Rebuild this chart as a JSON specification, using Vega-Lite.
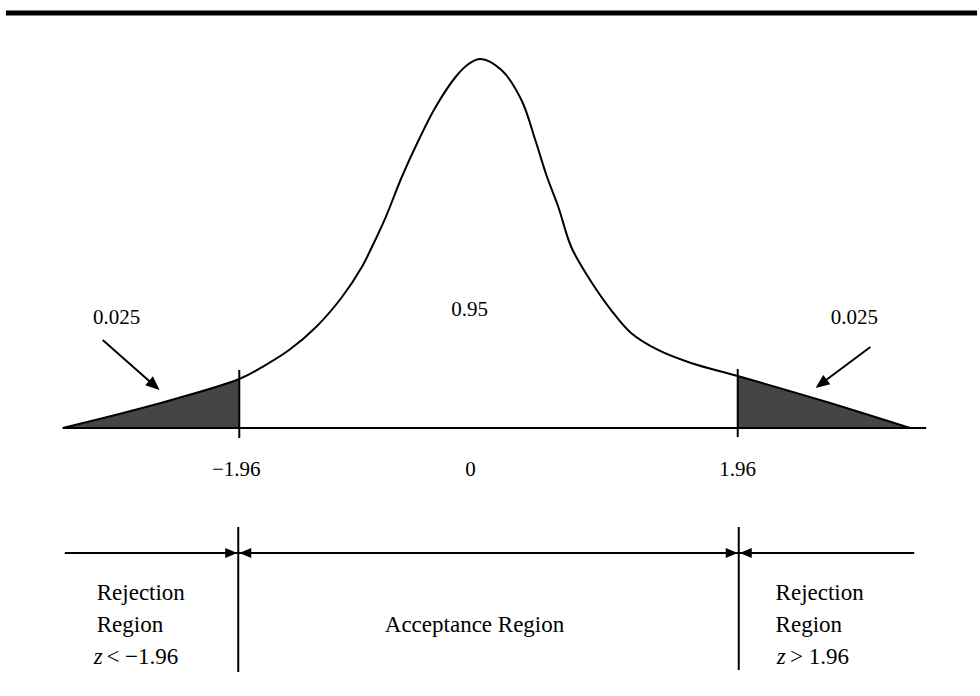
{
  "$schema": "https://vega.github.io/schema/vega-lite/v6.json",
  "width": 980,
  "height": 696,
  "padding": 0,
  "autosize": {"type": "fit", "contains": "padding"},
  "background": "white",
  "config": {"view": {"stroke": null}},
  "datasets": {
    "curve": [
      {"z": -3.348, "y": 0}, {"z": -2.666, "y": 0.0238}, {"z": -1.96, "y": 0.0531},
      {"z": -1.78, "y": 0.0661}, {"z": -1.568, "y": 0.0845}, {"z": -1.356, "y": 0.1095},
      {"z": -1.152, "y": 0.142}, {"z": -0.996, "y": 0.1745}, {"z": -0.917, "y": 0.1962},
      {"z": -0.808, "y": 0.2287}, {"z": -0.682, "y": 0.2721}, {"z": -0.549, "y": 0.3122},
      {"z": -0.416, "y": 0.348}, {"z": -0.259, "y": 0.3805}, {"z": -0.157, "y": 0.3946},
      {"z": -0.063, "y": 0.4}, {"z": 0.102, "y": 0.3881}, {"z": 0.259, "y": 0.3556},
      {"z": 0.368, "y": 0.3122}, {"z": 0.455, "y": 0.2743}, {"z": 0.549, "y": 0.2396},
      {"z": 0.651, "y": 0.1962}, {"z": 0.784, "y": 0.1637}, {"z": 0.964, "y": 0.1279},
      {"z": 1.121, "y": 0.103}, {"z": 1.333, "y": 0.0846}, {"z": 1.592, "y": 0.0705},
      {"z": 1.96, "y": 0.0564}, {"z": 2.634, "y": 0.0293}, {"z": 3.316, "y": 0}
    ],
    "tails": [
      {"side": "left", "z": -3.348, "y": 0}, {"side": "left", "z": -2.666, "y": 0.0238}, {"side": "left", "z": -1.96, "y": 0.0531},
      {"side": "right", "z": 1.96, "y": 0.0564}, {"side": "right", "z": 2.634, "y": 0.0293}, {"side": "right", "z": 3.316, "y": 0}
    ],
    "lines": [
      {"name": "baseline", "z": -3.348, "z2": 3.442, "y": 0, "y2": 0},
      {"name": "crit left", "z": -1.96, "z2": -1.96, "y": 0.0629, "y2": -0.0108},
      {"name": "crit right", "z": 1.96, "z2": 1.96, "y": 0.064, "y2": -0.0098},
      {"name": "region line", "z": -3.332, "z2": 3.348, "y": -0.1355, "y2": -0.1355},
      {"name": "region left", "z": -1.968, "z2": -1.968, "y": -0.1073, "y2": -0.2645},
      {"name": "region right", "z": 1.968, "z2": 1.968, "y": -0.1073, "y2": -0.2623},
      {"name": "pointer left", "z": -3.034, "z2": -2.646, "y": 0.0954, "y2": 0.0483},
      {"name": "pointer right", "z": 3.003, "z2": 2.634, "y": 0.0878, "y2": 0.0499}
    ],
    "top": [
      {"name": "header rule", "z": -3.795, "z2": 3.842, "y": 0.4499, "y2": 0.4499}
    ],
    "heads": [
      {"group": "pointer", "z": -2.587, "y": 0.0412, "angle": 131.3},
      {"group": "pointer", "z": 2.572, "y": 0.0434, "angle": 233.3},
      {"group": "region", "z": -1.976, "y": -0.1355, "angle": 90},
      {"group": "region", "z": -1.96, "y": -0.1355, "angle": 270},
      {"group": "region", "z": 1.96, "y": -0.1355, "angle": 90},
      {"group": "region", "z": 1.976, "y": -0.1355, "angle": 270}
    ],
    "centered": [
      {"text": "−1.96", "z": -1.984, "y": -0.0455},
      {"text": "0", "z": -0.141, "y": -0.0455},
      {"text": "1.96", "z": 1.96, "y": -0.0455},
      {"text": "0.95", "z": -0.149, "y": 0.1279},
      {"text": "0.025", "z": -2.924, "y": 0.1192},
      {"text": "0.025", "z": 2.877, "y": 0.1192}
    ],
    "regions": [
      {"text": "Rejection", "z": -3.081, "y": -0.1789},
      {"text": "Region", "z": -3.081, "y": -0.2136},
      {"text": "< −1.96", "z": -3.005, "y": -0.2482},
      {"text": "Rejection", "z": 2.258, "y": -0.1789},
      {"text": "Region", "z": 2.258, "y": -0.2136},
      {"text": "> 1.96", "z": 2.372, "y": -0.2482}
    ],
    "italic": [
      {"text": "z", "z": -3.105, "y": -0.2482},
      {"text": "z", "z": 2.266, "y": -0.2482}
    ],
    "middle": [
      {"text": "Acceptance Region", "z": -0.11, "y": -0.2136}
    ]
  },
  "encoding": {
    "x": {"field": "z", "type": "quantitative", "scale": {"domain": [-3.8417, 3.8417], "nice": false, "zero": false}, "axis": null},
    "y": {"field": "y", "type": "quantitative", "scale": {"domain": [-0.29051, 0.46396], "nice": false, "zero": false}, "axis": null}
  },
  "layer": [
    {
      "data": {"name": "tails"},
      "mark": {"type": "area", "interpolate": "catmull-rom", "color": "#454545"},
      "encoding": {"detail": {"field": "side"}, "y2": {"datum": 0}}
    },
    {
      "data": {"name": "curve"},
      "mark": {"type": "line", "interpolate": "catmull-rom", "color": "black", "strokeWidth": 2}
    },
    {
      "data": {"name": "lines"},
      "mark": {"type": "rule", "color": "black", "strokeWidth": 2},
      "encoding": {"x2": {"field": "z2"}, "y2": {"field": "y2"}}
    },
    {
      "data": {"name": "top"},
      "mark": {"type": "rule", "color": "black", "strokeWidth": 5},
      "encoding": {"x2": {"field": "z2"}, "y2": {"field": "y2"}}
    },
    {
      "data": {"name": "heads"},
      "transform": [{"filter": "datum.group === 'pointer'"}],
      "mark": {"type": "point", "shape": "M0,0L0.42,1L-0.42,1Z", "filled": true, "color": "black", "opacity": 1, "size": 784},
      "encoding": {"angle": {"field": "angle", "type": "quantitative", "scale": null}}
    },
    {
      "data": {"name": "heads"},
      "transform": [{"filter": "datum.group === 'region'"}],
      "mark": {"type": "point", "shape": "M0,0L0.42,1L-0.42,1Z", "filled": true, "color": "black", "opacity": 1, "size": 576},
      "encoding": {"angle": {"field": "angle", "type": "quantitative", "scale": null}}
    },
    {
      "data": {"name": "centered"},
      "mark": {"type": "text", "font": "Liberation Serif", "fontSize": 21, "align": "center", "baseline": "middle", "color": "black"},
      "encoding": {"text": {"field": "text"}}
    },
    {
      "data": {"name": "regions"},
      "mark": {"type": "text", "font": "Liberation Serif", "fontSize": 23, "align": "left", "baseline": "middle", "color": "black"},
      "encoding": {"text": {"field": "text"}}
    },
    {
      "data": {"name": "italic"},
      "mark": {"type": "text", "font": "Liberation Serif", "fontSize": 23, "fontStyle": "italic", "align": "left", "baseline": "middle", "color": "black"},
      "encoding": {"text": {"field": "text"}}
    },
    {
      "data": {"name": "middle"},
      "mark": {"type": "text", "font": "Liberation Serif", "fontSize": 23, "align": "center", "baseline": "middle", "color": "black"},
      "encoding": {"text": {"field": "text"}}
    }
  ]
}
